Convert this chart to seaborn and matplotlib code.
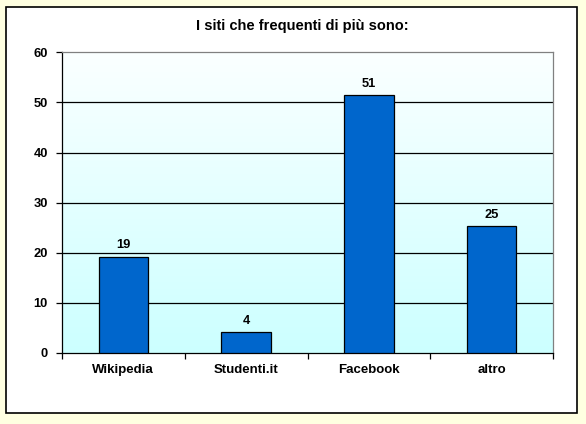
import matplotlib
matplotlib.use("Agg")
import matplotlib.pyplot as plt
from matplotlib.patches import Rectangle
import seaborn as sns
import pandas as pd
import numpy as np

# values
siti = ["Wikipedia", "Studenti.it", "Facebook", "altro"]
percentuali = [19.2, 4.1, 51.4, 25.3]
titolo = "I siti che frequenti di più sono:"

sns.set_theme(style="white")
plt.rcParams["font.family"] = ["Liberation Sans", "DejaVu Sans"]
plt.rcParams["text.color"] = "black"
plt.rcParams["xtick.color"] = "black"
plt.rcParams["ytick.color"] = "black"

df = pd.DataFrame({"sito": siti, "valore": percentuali})

fig = plt.figure(figsize=(5.86, 4.24), dpi=100, facecolor="#FFFFE1")
# white chart frame with black border
fig.patches.append(Rectangle((0.0108, 0.0267), 0.9733, 0.9561, transform=fig.transFigure,
                             facecolor="white", edgecolor="black", linewidth=1.2, zorder=-5))

ax = fig.add_axes([0.1053, 0.1675, 0.8389, 0.7092])
ax.set_zorder(2)
ax.set_facecolor("none")

sns.barplot(data=df, x="sito", y="valore", color="#0066CC", width=0.4,
            edgecolor="black", linewidth=0.9, saturation=1, ax=ax, zorder=3)

ax.set_xlim(-0.5, len(siti) - 0.5)
ax.set_ylim(0, 60)

# gradient background of the plot area
grad = np.linspace(0, 1, 256).reshape(-1, 1)
cmap = matplotlib.colors.LinearSegmentedColormap.from_list("bg", ["#CCFFFF", "#FBFFFF"])
ax.imshow(grad, extent=[-0.5, len(siti) - 0.5, 0, 60], origin="lower", aspect="auto",
          cmap=cmap, zorder=0)

ax.set_yticks(range(0, 61, 10))
for v in range(10, 60, 10):
    ax.axhline(v, color="black", linewidth=0.9, zorder=1)

for s in ["top", "right"]:
    ax.spines[s].set_color("#808080")
for s in ["left", "bottom"]:
    ax.spines[s].set_color("black")
for s in ax.spines.values():
    s.set_linewidth(0.9)

ax.set_xticks(np.arange(-0.5, len(siti)), minor=True)
ax.tick_params(axis="x", which="major", length=0, pad=8, labelsize=9.5)
ax.tick_params(axis="x", which="minor", length=4, width=0.9, color="black", direction="out", bottom=True)
ax.tick_params(axis="y", length=4, width=0.9, color="black", direction="out", left=True,
               pad=6, labelsize=9.3)
for lab in ax.get_xticklabels() + ax.get_yticklabels():
    lab.set_fontweight("bold")

ax.set_xlabel("")
ax.set_ylabel("")

ax.bar_label(ax.containers[0], fmt="%.0f", padding=4, fontsize=9.3, fontweight="bold")

fig.text(0.516, 0.938, titolo, ha="center", va="center", fontsize=10.5, fontweight="bold")

fig.savefig("out.png", dpi=100, facecolor=fig.get_facecolor())
